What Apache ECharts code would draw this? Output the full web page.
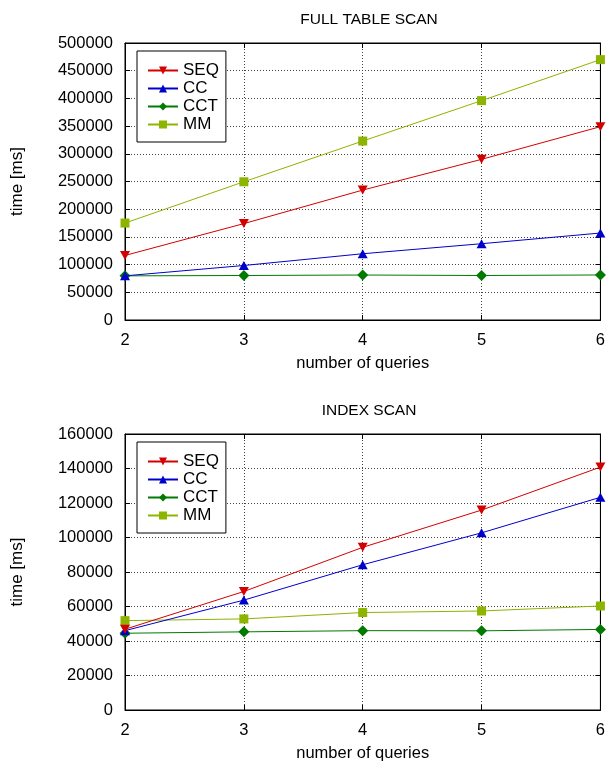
<!DOCTYPE html>
<html>
<head>
<meta charset="utf-8">
<script src="https://cdn.jsdelivr.net/npm/echarts@6/dist/echarts.min.js"></script>
<style>
html,body{margin:0;padding:0;background:#fff;}
#c{width:608px;height:764px;}
</style>
</head>
<body>
<div id="c"></div>
<script>
const queries = [2, 3, 4, 5, 6];
const seriesNames = ['SEQ', 'CC', 'CCT', 'MM'];
const titles = ['FULL TABLE SCAN', 'INDEX SCAN'];
// Full table scan (ms)
const fullSEQ = [116500, 174000, 234500, 290000, 349000];
const fullCC  = [79700, 98400, 119600, 137700, 157000];
const fullCCT = [79700, 80300, 81200, 80300, 81300];
const fullMM  = [175000, 249500, 323000, 396000, 470000];
// Index scan (ms)
const idxSEQ = [46800, 68700, 94300, 115900, 140800];
const idxCC  = [46000, 63700, 84200, 102700, 123300];
const idxCCT = [44500, 45300, 46000, 45900, 46700];
const idxMM  = [51800, 52800, 56500, 57400, 60300];

const colors = ['#d40000', '#0000cc', '#007a00', '#8cb400'];
const symbols = ['path://M0,0 L10,0 L5,9 Z', 'triangle', 'diamond', 'rect'];
const symSizes = [[10, 9], [10, 9], 11, 9];

const FONT = 'Liberation Sans, Arial, Helvetica, sans-serif';

const grids = [
  {left: 125, top: 43, width: 478, height: 277},
  {left: 125, top: 434, width: 478, height: 276}
];

const xAxes = [], yAxes = [], series = [], legends = [], titleOpts = [];
const datasets = [[fullSEQ, fullCC, fullCCT, fullMM], [idxSEQ, idxCC, idxCCT, idxMM]];
const yCfg = [{max: 500000, interval: 50000}, {max: 160000, interval: 20000}];

grids.forEach((g, gi) => {
  titleOpts.push({
    text: titles[gi], left: g.left + g.width / 2, top: g.top - 36, textAlign: 'center',
    textStyle: {fontFamily: FONT, fontSize: 15.5, fontWeight: 'normal', color: '#000'}
  });
  const dotted = {show: true, lineStyle: {color: '#444', type: [1, 2], width: 1}};
  const lineSt = {show: true, onZero: false, lineStyle: {color: '#000', width: 1}};
  const tickSt = {show: true, inside: true, length: 5, lineStyle: {color: '#000'}};
  xAxes.push({
    type: 'value', gridIndex: gi, position: 'bottom', min: 2, max: 6, interval: 1,
    name: 'number of queries', nameLocation: 'middle', nameGap: 35,
    nameTextStyle: {fontFamily: FONT, fontSize: 16.5, color: '#000'},
    axisLine: lineSt, axisTick: tickSt,
    axisLabel: {fontFamily: FONT, fontSize: 16.5, color: '#000', margin: 12},
    splitLine: dotted
  });
  xAxes.push({
    type: 'value', gridIndex: gi, position: 'top', min: 2, max: 6, interval: 1,
    axisLine: lineSt, axisTick: tickSt,
    axisLabel: {show: false}, splitLine: {show: false}
  });
  yAxes.push({
    type: 'value', gridIndex: gi, position: 'left', min: 0, max: yCfg[gi].max, interval: yCfg[gi].interval,
    name: 'time [ms]', nameLocation: 'middle', nameGap: 99, nameRotate: 90,
    nameTextStyle: {fontFamily: FONT, fontSize: 17, color: '#000'},
    axisLine: lineSt, axisTick: tickSt,
    axisLabel: {fontFamily: FONT, fontSize: 16.5, color: '#000', margin: 12,
      formatter: v => String(v)},
    splitLine: dotted
  });
  yAxes.push({
    type: 'value', gridIndex: gi, position: 'right', min: 0, max: yCfg[gi].max, interval: yCfg[gi].interval,
    axisLine: lineSt, axisTick: tickSt,
    axisLabel: {show: false}, splitLine: {show: false}
  });
  seriesNames.forEach((n, si) => {
    series.push({
      name: n, type: 'line', xAxisIndex: gi * 2, yAxisIndex: gi * 2,
      data: queries.map((q, i) => [q, datasets[gi][si][i]]),
      symbol: symbols[si], symbolSize: symSizes[si], showAllSymbol: true,
      lineStyle: {color: colors[si], width: 1},
      itemStyle: {color: colors[si], borderWidth: 0},
      clip: false, z: 3 + (3 - si), animation: false
    });
  });
  legends.push({
    orient: 'vertical', left: 137, top: g.top + 8,
    padding: [11, 7, 9, 10],
    backgroundColor: '#fff', borderColor: '#000', borderWidth: 1,
    itemWidth: 30, itemHeight: 10, itemGap: 1,
    textStyle: {fontFamily: FONT, fontSize: 17, color: '#000', lineHeight: 16},
    data: seriesNames.map(n => ({name: n})),
    selectedMode: false,
    z: 10
  });
});

const chart = echarts.init(document.getElementById('c'), null, {renderer: 'canvas'});
chart.setOption({
  backgroundColor: '#fff',
  animation: false,
  color: colors,
  title: titleOpts,
  grid: grids.map(g => Object.assign({show: true, borderColor: '#000', borderWidth: 1, backgroundColor: 'transparent'}, g)),
  xAxis: xAxes,
  yAxis: yAxes,
  legend: legends,
  series: series
});
</script>
</body>
</html>
